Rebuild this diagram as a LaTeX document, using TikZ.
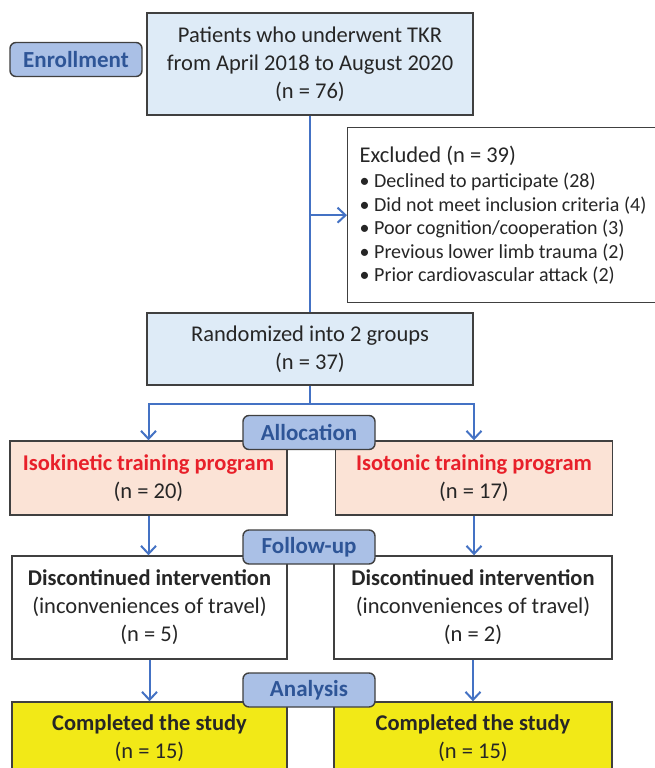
\documentclass[tikz,border=0pt]{standalone}
\usepackage{fontspec}
\setmainfont{Carlito}
\usepackage{tikz}
\usetikzlibrary{arrows.meta, positioning}
\usepackage{xcolor}
\definecolor{LineBlue}{HTML}{4472C4}
\definecolor{StageFill}{HTML}{AAC0E6}
\definecolor{StageText}{HTML}{2E5597}
\definecolor{PaleBlue}{HTML}{DEEBF7}
\definecolor{Peach}{HTML}{FBE3D6}
\definecolor{Lemon}{HTML}{F2E917}
\definecolor{ProgRed}{HTML}{E8202A}
\definecolor{Frame}{HTML}{404040}
\definecolor{Ink}{HTML}{262626}
\tikzset{%
  block/.style={%
    rectangle,%
    draw=Frame,%
    line width=1.4pt,%
    text=Ink,%
    font={\fontsize{22.5}{28}\selectfont},%
    align=center,%
    inner sep=0pt%
  },
  stage/.style={%
    rectangle,%
    rounded corners=6pt,%
    draw=Frame,%
    line width=1.4pt,%
    fill=StageFill,%
    text=StageText,%
    font={\fontsize{23}{26}\selectfont\bfseries},%
    minimum width=132pt,%
    minimum height=34pt,%
    inner sep=0pt%
  },
  signal/.style={%
    draw=LineBlue,%
    line width=2pt,%
    line join=miter%
  },
  arrow/.style={-{Straight Barb[length=8pt, width=15pt, line width=2pt]}},
}
\begin{document}
\begin{tikzpicture}[x=1pt, y=-1pt]
  \clip (0,0) rectangle (655,768);
  \fill[white] (0,0) rectangle (655,768);

  \node[block, fill=PaleBlue, minimum width=326pt, minimum height=102pt] (TKR) at (310,64)
    {Patients who underwent TKR\\from April 2018 to August 2020\\(n = 76)};
  \node[block, fill=white, anchor=north west, minimum width=311pt, minimum height=175pt,
        align=flush left, inner xsep=12pt, text width=287pt,
        font={\fontsize{20}{23.4}\selectfont}] (Excl) at (347,127)
    {{\fontsize{22.5}{26}\selectfont Excluded (n = 39)}\\[2pt]
     • Declined to participate (28)\\
     • Did not meet inclusion criteria (4)\\
     • Poor cognition/cooperation (3)\\
     • Previous lower limb trauma (2)\\
     • Prior cardiovascular attack (2)};
  \node[block, fill=PaleBlue, minimum width=326pt, minimum height=72pt] (Rand) at (310,349)
    {Randomized into 2 groups\\(n = 37)};

  \node[block, fill=Peach, minimum width=277pt, minimum height=74pt] (IsoK) at (148.5,478)
    {\textcolor{ProgRed}{\bfseries Isokinetic training program}\\(n = 20)};
  \node[block, fill=Peach, minimum width=277pt, minimum height=74pt] (IsoT) at (474,478)
    {\textcolor{ProgRed}{\bfseries Isotonic training program}\\(n = 17)};

  \node[block, fill=white, minimum width=275pt, minimum height=103pt] (DiscK) at (149.5,607.5)
    {\textbf{Discontinued intervention}\\(inconveniences of travel)\\(n = 5)};
  \node[block, fill=white, minimum width=278pt, minimum height=103pt] (DiscT) at (473,607.5)
    {\textbf{Discontinued intervention}\\(inconveniences of travel)\\(n = 2)};

  \node[block, fill=Lemon, minimum width=275pt, minimum height=72pt] (DoneK) at (149.5,738)
    {\textbf{Completed the study}\\(n = 15)};
  \node[block, fill=Lemon, minimum width=278pt, minimum height=72pt] (DoneT) at (473,738)
    {\textbf{Completed the study}\\(n = 15)};

  \coordinate (split) at (310,404);

  \draw[signal] (TKR.south) -- (Rand.north);
  \draw[signal, arrow] (TKR.south |- Excl.west) -- (Excl.west);
  \draw[signal] (Rand.south) -- (split);
  \draw[signal, arrow] (split) -| (IsoK.north);
  \draw[signal, arrow] (split) -| (IsoT.north);
  \draw[signal, arrow] (IsoK.south) -- (DiscK.north -| IsoK.south);
  \draw[signal, arrow] (IsoT.south) -- (DiscT.north -| IsoT.south);
  \draw[signal, arrow] (DiscK.south) -- (DoneK.north);
  \draw[signal, arrow] (DiscT.south) -- (DoneT.north);

  \node[stage] (Enrol) at (76,59.5) {Enrollment};
  \node[stage] (Alloc) at (309,432.5) {Allocation};
  \node[stage] (Follow) at (309,547) {Follow-up};
  \node[stage] (Anal) at (309,690) {Analysis};

\end{tikzpicture}
\end{document}
